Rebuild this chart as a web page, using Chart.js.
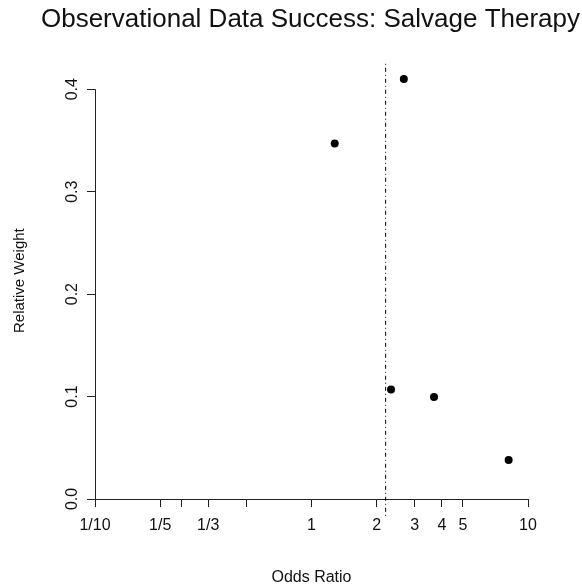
<!DOCTYPE html>
<html>
<head>
<meta charset="utf-8">
<title>Observational Data Success: Salvage Therapy</title>
<script src="https://cdn.jsdelivr.net/npm/chart.js@4/dist/chart.umd.min.js"></script>
<style>
  html, body { margin: 0; padding: 0; background: #fff; }
  #wrap { width: 582px; height: 587px; }
</style>
</head>
<body>
<div id="wrap"><canvas id="chart" width="582" height="587"></canvas></div>
<script>
// study estimates (odds ratio vs relative weight)
const oddsRatios = [1.28, 2.33, 2.67, 3.68, 8.14];
const weights = [0.347, 0.107, 0.41, 0.0995, 0.038];

// pooled estimate, drawn as the dash-dot reference line
const pooledOR = 2.2;
const pooledLineSpan = [-0.0164, 0.4264];

// axis ticks
const xTicks = [0.1, 0.2, 0.25, 1 / 3, 0.5, 1, 2, 3, 4, 5, 10];
const xTickLabels = ['1/10', '1/5', '', '1/3', '', '1', '2', '3', '4', '5', '10'];
const yTicks = [0, 0.1, 0.2, 0.3, 0.4];
const yTickLabels = ['0.0', '0.1', '0.2', '0.3', '0.4'];

const FONT = "'Liberation Sans', Arial, Helvetica, sans-serif";
const INK = '#222';

// R style y axis: line only runs between the first and last tick
const rAxisLine = {
  id: 'rAxisLine',
  afterDatasetsDraw(chart) {
    const { ctx, scales: { y }, chartArea } = chart;
    const x0 = Math.round(chartArea.left) + 0.5;
    ctx.save();
    ctx.strokeStyle = INK;
    ctx.lineWidth = 1;
    ctx.beginPath();
    ctx.moveTo(x0, y.getPixelForValue(yTicks[0]));
    ctx.lineTo(x0, y.getPixelForValue(yTicks[yTicks.length - 1]));
    ctx.stroke();
    ctx.restore();
  }
};

const ctx = document.getElementById('chart').getContext('2d');

new Chart(ctx, {
  type: 'scatter',
  data: {
    datasets: [
      {
        label: 'Studies',
        data: oddsRatios.map((or, i) => ({ x: or, y: weights[i] })),
        backgroundColor: '#000',
        borderWidth: 0,
        pointRadius: 4,
        pointHoverRadius: 4,
        clip: false
      },
      {
        label: 'Pooled',
        data: pooledLineSpan.map(y => ({ x: pooledOR, y })),
        showLine: true,
        borderColor: '#000',
        borderWidth: 1,
        borderDash: [1, 3, 4, 3],
        pointRadius: 0,
        clip: false
      }
    ]
  },
  options: {
    responsive: false,
    animation: false,
    layout: { padding: { left: 39, right: 0, top: 0, bottom: 0 } },
    plugins: {
      legend: { display: false },
      tooltip: { enabled: false },
      title: {
        display: true,
        text: 'Observational Data Success: Salvage Therapy',
        color: '#111',
        font: { family: FONT, size: 26, weight: 'normal' },
        padding: { top: 4, bottom: 27 }
      }
    },
    scales: {
      x: {
        type: 'logarithmic',
        min: 0.1,
        max: 10,
        afterBuildTicks: scale => { scale.ticks = xTicks.map(v => ({ value: v })); },
        afterFit: scale => { scale.height = 88; },
        ticks: {
          autoSkip: false,
          maxRotation: 0,
          minRotation: 0,
          padding: 9,
          color: '#111',
          font: { family: FONT, size: 16 },
          callback: (value, index) => xTickLabels[index]
        },
        grid: { drawOnChartArea: false, drawTicks: true, tickLength: 8, tickColor: INK, lineWidth: 1 },
        border: { display: true, color: INK, width: 1 },
        title: {
          display: true,
          text: 'Odds Ratio',
          color: '#111',
          font: { family: FONT, size: 16 },
          padding: { top: 0, bottom: 0 }
        }
      },
      y: {
        min: 0,
        max: 0.4264,
        afterBuildTicks: scale => { scale.ticks = yTicks.map(v => ({ value: v })); },
        afterFit: scale => { scale.width = 56; },
        ticks: {
          autoSkip: false,
          minRotation: 90,
          maxRotation: 90,
          crossAlign: 'center',
          padding: 3,
          color: '#111',
          font: { family: FONT, size: 16 },
          callback: (value, index) => yTickLabels[index]
        },
        grid: { drawOnChartArea: false, drawTicks: true, tickLength: 8, tickColor: INK, lineWidth: 1 },
        border: { display: false },
        title: {
          display: true,
          text: 'Relative Weight',
          color: '#111',
          font: { family: FONT, size: 15 },
          padding: { top: -28, bottom: 0 }
        }
      },
      // empty right-hand margin, keeps the plot region where R put it
      yMargin: {
        position: 'right',
        display: true,
        afterFit: scale => { scale.width = 54; },
        ticks: { display: false },
        grid: { display: false },
        border: { display: false }
      }
    }
  },
  plugins: [rAxisLine]
});
</script>
</body>
</html>
